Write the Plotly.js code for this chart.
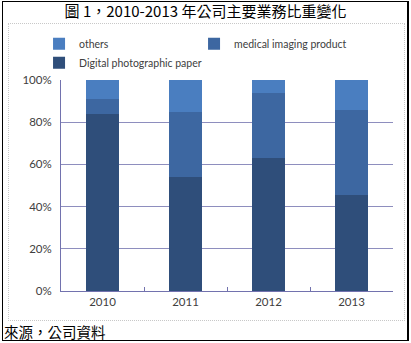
<!DOCTYPE html>
<html>
<head>
<meta charset="utf-8">
<script src="https://cdn.plot.ly/plotly-3.0.1.min.js"></script>
<style>
  html, body { margin: 0; padding: 0; background: #fff; }
  #wrap { position: relative; width: 411px; height: 343px; overflow: hidden; }
  #chart { position: absolute; left: 0; top: 0; width: 411px; height: 343px; }
  #outer { position: absolute; left: 2px; top: 1px; width: 404px; height: 338px; border: 1px solid #000; border-right-width: 2px; pointer-events: none; }
  #inner { position: absolute; left: 8px; top: 23px; width: 395px; height: 296px; border: 1px dotted #c8c8c8; pointer-events: none; }
</style>
</head>
<body>
<div id="wrap">
  <div id="chart"></div>
  <div id="inner"></div>
  <div id="outer"></div>
</div>
<script>
const years = ['2010', '2011', '2012', '2013'];
const digitalPaper = [0.84, 0.54, 0.63, 0.455];
const medicalImaging = [0.07, 0.31, 0.31, 0.405];
const others = [0.09, 0.15, 0.06, 0.14];
const seriesNames = ['Digital photographic paper', 'medical imaging product', 'others'];
const titleText = '圖 1，2010-2013 年公司主要業務比重變化';
const sourceText = '來源，公司資料';

const colors = ['#2F4E7A', '#3D67A1', '#4A7EC0'];
const seriesValues = [digitalPaper, medicalImaging, others];

const traces = seriesValues.map((vals, i) => ({
  type: 'bar',
  name: seriesNames[i],
  x: years,
  y: vals,
  marker: { color: colors[i], line: { width: 0 } },
  hoverinfo: 'skip'
}));

const layout = {
  width: 411,
  height: 343,
  margin: { l: 61, r: 18, t: 80, b: 52 },
  paper_bgcolor: 'rgba(0,0,0,0)',
  plot_bgcolor: '#fff',
  barmode: 'stack',
  bargap: 0.6,
  showlegend: true,
  title: {
    text: titleText,
    font: { family: 'Noto Sans CJK TC, sans-serif', size: 15, color: '#000' },
    x: 0.5, xanchor: 'center', xref: 'container',
    y: 0.967, yanchor: 'middle', yref: 'container'
  },
  legend: {
    orientation: 'h',
    traceorder: 'reversed',
    xref: 'container', yref: 'container',
    x: 0.095, xanchor: 'left',
    y: 0.915, yanchor: 'top',
    entrywidth: 110, entrywidthmode: 'pixels',
    itemwidth: 30,
    tracegroupgap: 0,
    font: { family: 'Lato, sans-serif', size: 10.5, color: '#404040' },
    bgcolor: 'rgba(0,0,0,0)'
  },
  xaxis: {
    type: 'category',
    showline: true,
    linecolor: '#7272AE',
    linewidth: 1,
    ticks: 'inside',
    tickson: 'boundaries',
    ticklen: 4,
    tickcolor: '#7272AE',
    showgrid: false,
    tickfont: { family: 'Lato, sans-serif', size: 11.5, color: '#404040' },
    fixedrange: true
  },
  yaxis: {
    range: [0, 1],
    dtick: 0.2,
    tickformat: '.0%',
    showline: true,
    linecolor: '#7272AE',
    linewidth: 1,
    showgrid: true,
    gridcolor: '#8E8EBE',
    gridwidth: 1,
    zeroline: false,
    ticks: '',
    ticklabelstandoff: 6,
    tickfont: { family: 'Lato, sans-serif', size: 11.5, color: '#404040' },
    fixedrange: true
  },
  annotations: [{
    text: sourceText,
    xref: 'paper', yref: 'paper',
    x: -0.175, xanchor: 'left',
    y: -0.19, yanchor: 'middle',
    showarrow: false,
    borderpad: 0,
    font: { family: 'Noto Sans CJK TC, sans-serif', size: 14.5, color: '#000' }
  }]
};

Plotly.newPlot('chart', traces, layout, { displayModeBar: false, staticPlot: true });
</script>
</body>
</html>
